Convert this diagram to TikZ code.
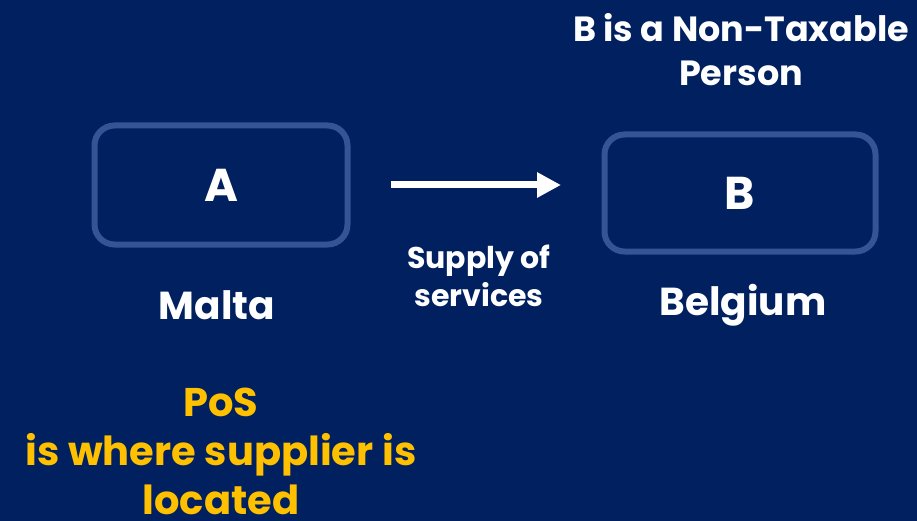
\documentclass[tikz,border=0pt]{standalone}
\usepackage{fontspec}
\setmainfont{Poppins}
\usetikzlibrary{arrows.meta,positioning}

\definecolor{navy}{RGB}{0,32,96}
\definecolor{boxline}{RGB}{52,84,150}
\definecolor{posyellow}{RGB}{255,192,0}

\tikzset{
  party/.style={draw=boxline, line width=6pt, rounded corners=20pt, minimum width=253pt, minimum height=119pt,
    text=white, font=\fontsize{46}{50}\selectfont\bfseries},
  country/.style={text=white, font=\fontsize{39}{44}\selectfont\bfseries},
  note/.style={text=white, align=center, font=\fontsize{30}{38}\selectfont\bfseries}
}

\begin{document}
\begin{tikzpicture}[x=1pt,y=-1pt]
  \fill[navy] (0,0) rectangle (917,521);
  \useasboundingbox (0,0) rectangle (917,521);

  \node[party] (A) at (221,185) {A};
  \node[party, minimum width=271pt, minimum height=117pt] (B) at (740,193) {B};

  \node[country] (malta) at (217,305) {Malta};
  \node[country] (belgium) at (743,305) {Belgium};

  \node[note, font=\fontsize{35}{44}\selectfont\bfseries] (status) at (741,50) {B is a Non-Taxable\\Person};
  \node[note] (supply) at (479,276) {Supply of\\services};
  \node[note, text=posyellow, font=\fontsize{40}{49}\selectfont\bfseries] (pos) at (221,451) {PoS\\is where supplier is\\located};

  \coordinate (from) at (391,185);
  \coordinate (to) at (561,185);
  \draw[white, line width=7pt, -{Triangle[length=24pt,width=24pt]}] (from) -- (to);
\end{tikzpicture}
\end{document}
